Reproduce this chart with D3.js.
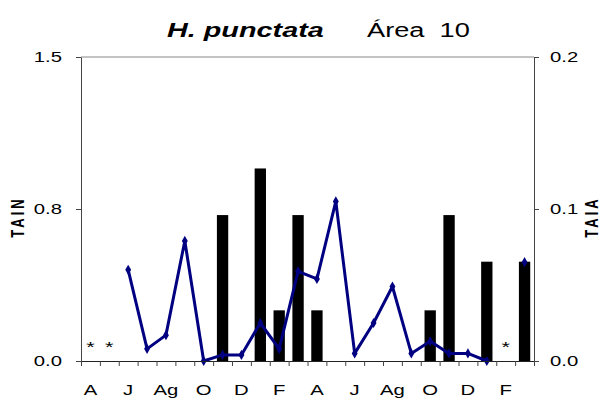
<!DOCTYPE html>
<html>
<head>
<meta charset="utf-8">
<script src="https://cdn.jsdelivr.net/npm/d3@7"></script>
<style>
  body { margin: 0; background: #fff; }
  text { font-family: "Liberation Sans", Arial, sans-serif; fill: #000; }
</style>
</head>
<body>
<div id="chart"></div>
<script>
// month labels (only every other month is labelled)
var monthLabels = ["A","","J","","Ag","","O","","D","","F","","A","","J","","Ag","","O","","D","","F",""];
// TAIN (bars, left axis)
var tain = [0,0,0,0,0,0,0,0.72,0,0.95,0.25,0.72,0.25,0,0,0,0,0,0.25,0.72,0,0.49,0,0.49];
// TAIA (line, right axis); null = no sample
var taia = [null,null,0.060,0.008,0.017,0.079,0,0.004,0.004,0.025,0.008,0.059,0.054,0.105,0.005,0.025,0.049,0.005,0.013,0.005,0.005,0,null,0.065];
// months without sampling, marked with *
var missing = [0,1,22];
var leftTicks = [0, 0.75, 1.5];
var rightTicks = [0, 0.1, 0.2];

var width = 603, height = 406;
var margin = {top: 57, right: 69, bottom: 45, left: 81};
var plotW = width - margin.left - margin.right,
    plotH = height - margin.top - margin.bottom;
var sx = 1.45; // the reference is stretched horizontally

var svg = d3.select("#chart").append("svg")
    .attr("width", width)
    .attr("height", height);

var g = svg.append("g").attr("transform", "translate(" + margin.left + "," + margin.top + ")");

var x = d3.scaleBand().domain(d3.range(monthLabels.length)).range([0, plotW]).padding(0);
var xEdge = d3.scaleLinear().domain([0, monthLabels.length]).range([0, plotW]);
var yL = d3.scaleLinear().domain([0, 1.5]).range([plotH, 0]);
var yR = d3.scaleLinear().domain([0, 0.2]).range([plotH, 0]);

// top border
g.append("line")
    .attr("x1", 0).attr("x2", plotW)
    .attr("y1", 0).attr("y2", 0)
    .attr("stroke", "#888").attr("stroke-width", 1);

// bars
var barW = x.bandwidth() * 0.6;
g.append("g").selectAll("rect")
    .data(tain.map(function(v, i) { return {i: i, v: v}; }).filter(function(d) { return d.v > 0; }))
  .enter().append("rect")
    .attr("x", function(d) { return x(d.i) + (x.bandwidth() - barW) / 2; })
    .attr("y", function(d) { return yL(d.v); })
    .attr("width", barW)
    .attr("height", function(d) { return plotH - yL(d.v); })
    .attr("fill", "#000");

// line
var line = d3.line()
    .defined(function(d) { return d !== null; })
    .x(function(d, i) { return x(i) + x.bandwidth() / 2; })
    .y(function(d) { return yR(d); });

g.append("path")
    .datum(taia)
    .attr("d", line)
    .attr("fill", "none")
    .attr("stroke", "#000080")
    .attr("stroke-width", 3)
    .attr("stroke-linejoin", "round");

g.append("g").selectAll("path")
    .data(taia.map(function(v, i) { return {i: i, v: v}; }).filter(function(d) { return d.v !== null; }))
  .enter().append("path")
    .attr("d", d3.symbol().type(d3.symbolDiamond).size(30))
    .attr("transform", function(d) { return "translate(" + (x(d.i) + x.bandwidth() / 2) + "," + yR(d.v) + ")"; })
    .attr("fill", "#000080");

// asterisks
g.append("g").selectAll("text")
    .data(missing)
  .enter().append("text")
    .attr("transform", function(d) { return "translate(" + (x(d) + x.bandwidth() / 2) + "," + (plotH - 9) + ") scale(" + sx + ",1)"; })
    .attr("text-anchor", "middle")
    .style("font-size", "15px")
    .text("*");

// axes
var axisL = g.append("g")
    .call(d3.axisLeft(yL).tickValues(leftTicks).tickFormat(d3.format(".1f")).tickSize(5).tickSizeOuter(0).tickPadding(14));
var axisR = g.append("g")
    .attr("transform", "translate(" + plotW + ",0)")
    .call(d3.axisRight(yR).tickValues(rightTicks).tickFormat(d3.format(".1f")).tickSize(5).tickSizeOuter(0).tickPadding(11));
var axisB = g.append("g")
    .attr("transform", "translate(0," + plotH + ")")
    .call(d3.axisBottom(xEdge).tickValues(d3.range(monthLabels.length + 1)).tickFormat("").tickSize(5).tickSizeOuter(0));
var axisLab = g.append("g")
    .attr("transform", "translate(0," + plotH + ")")
    .call(d3.axisBottom(x).tickFormat(function(i) { return monthLabels[i]; }).tickSize(0).tickPadding(24));
axisLab.select(".domain").remove();

[axisL, axisR, axisB].forEach(function(a) {
  a.selectAll("path, line").attr("stroke", "#444");
});
axisB.select(".domain").attr("stroke", "#222");

// widen tick label glyphs: move the x offset into a transform, then scale
[axisL, axisR, axisLab].forEach(function(a) {
  a.selectAll("text")
    .style("font-size", "14px")
    .attr("fill", "#000")
    .each(function() {
      var t = d3.select(this);
      var tx = +t.attr("x") || 0, ty = +t.attr("y") || 0;
      t.attr("x", 0).attr("y", 0)
       .attr("transform", "translate(" + tx + "," + ty + ") scale(" + sx + ",1)");
    });
});

// axis titles
svg.append("text")
    .attr("transform", "translate(24," + (margin.top + plotH / 2 + 8) + ") rotate(-90) scale(1,1.35)")
    .attr("text-anchor", "middle")
    .style("font-size", "13px")
    .style("font-weight", "bold")
    .style("letter-spacing", "3px")
    .text("TAIN");
svg.append("text")
    .attr("transform", "translate(598," + (margin.top + plotH / 2 + 8) + ") rotate(-90) scale(1,1.35)")
    .attr("text-anchor", "middle")
    .style("font-size", "13px")
    .style("font-weight", "bold")
    .style("letter-spacing", "3px")
    .text("TAIA");

// title
svg.append("text")
    .attr("transform", "translate(167,37) scale(1.44,1)")
    .style("font-size", "20px")
    .style("font-weight", "bold")
    .style("font-style", "italic")
    .text("H. punctata");
svg.append("text")
    .attr("transform", "translate(367,37) scale(1.36,1)")
    .style("font-size", "20px")
    .style("white-space", "pre")
    .text("Área  10");
</script>
</body>
</html>
